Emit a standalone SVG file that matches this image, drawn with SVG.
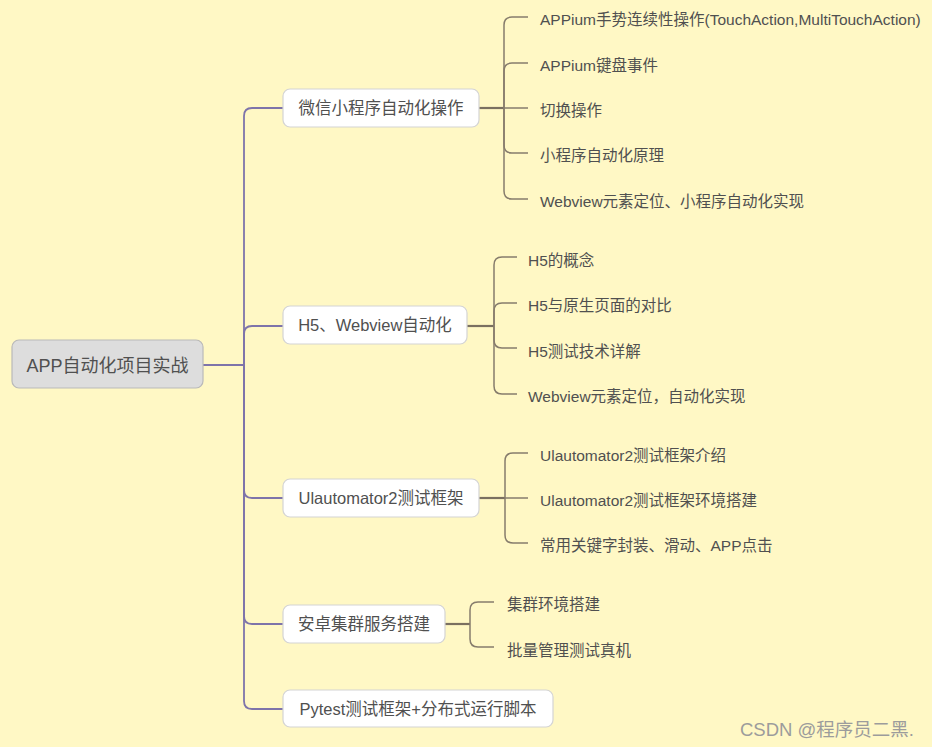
<svg xmlns="http://www.w3.org/2000/svg" width="932" height="747" viewBox="0 0 932 747">
<style>
  .bg{fill:#fff8c5}
  .root rect{fill:#dddddd;stroke:#b9b9b9;stroke-width:1.2}
  .node rect{fill:#ffffff;stroke:#d4d4d4;stroke-width:1.2}
  text{font-family:"Liberation Sans","Noto Sans CJK SC",sans-serif;fill:#505050}
  .rt{font-size:18px}
  .nt{font-size:16.5px}
  .ct{font-size:15.5px}
  .trunk{fill:none;stroke:#7e74aa;stroke-width:1.8}
  .sub{fill:none;stroke:#867c6c;stroke-width:1.5}
  .stub{fill:none;stroke:#7a7060;stroke-width:2.2}
  .wm{font-size:18.5px;fill:#9c9c9c}
</style>
<rect class="bg" x="0" y="0" width="932" height="747"/>
<g id="connectors">
  <path class="trunk" d="M203,365 H244" stroke-width="2.2"/>
  <path class="trunk" d="M244,365 V116 Q244,108 252,108 H283"/>
  <path class="trunk" d="M244,365 V334 Q244,326 252,326 H283"/>
  <path class="trunk" d="M244,365 V490 Q244,498 252,498 H283"/>
  <path class="trunk" d="M244,365 V616 Q244,624 252,624 H283"/>
  <path class="trunk" d="M244,365 V701 Q244,709 252,709 H283"/>
  <path class="stub" d="M479,108 H504"/>
  <path class="sub" d="M504,108 V25 Q504,17 512,17 H528"/>
  <path class="sub" d="M504,108 V71 Q504,63 512,63 H528"/>
  <path class="sub" d="M504,108 H528"/>
  <path class="sub" d="M504,108 V145 Q504,153 512,153 H528"/>
  <path class="sub" d="M504,108 V191 Q504,199 512,199 H528"/>
  <path class="stub" d="M467,326 H494"/>
  <path class="sub" d="M494,326 V265 Q494,257 502,257 H517"/>
  <path class="sub" d="M494,326 V311 Q494,303 502,303 H517"/>
  <path class="sub" d="M494,326 V340 Q494,348 502,348 H517"/>
  <path class="sub" d="M494,326 V386 Q494,394 502,394 H517"/>
  <path class="stub" d="M479,498 H505"/>
  <path class="sub" d="M505,498 V461 Q505,453 513,453 H528"/>
  <path class="sub" d="M505,498 H528"/>
  <path class="sub" d="M505,498 V535 Q505,543 513,543 H528"/>
  <path class="stub" d="M445,624 H470"/>
  <path class="sub" d="M470,624 V610 Q470,602 478,602 H494"/>
  <path class="sub" d="M470,624 V639 Q470,647 478,647 H494"/>
</g>
<g id="root" class="root">
  <rect x="12" y="340" width="191" height="48" rx="7"/>
  <text class="rt" x="107.5" y="372" text-anchor="middle">APP自动化项目实战</text>
</g>
<g id="n1" class="node">
  <rect x="283" y="89" width="196" height="38" rx="7"/>
  <text class="nt" x="381" y="114" text-anchor="middle">微信小程序自动化操作</text>
</g>
<g id="n1c">
  <text class="ct" x="540" y="25">APPium手势连续性操作(TouchAction,MultiTouchAction)</text>
  <text class="ct" x="540" y="71">APPium键盘事件</text>
  <text class="ct" x="540" y="116">切换操作</text>
  <text class="ct" x="540" y="161">小程序自动化原理</text>
  <text class="ct" x="540" y="207">Webview元素定位、小程序自动化实现</text>
</g>
<g id="n2" class="node">
  <rect x="283" y="306" width="184" height="38" rx="7"/>
  <text class="nt" x="375" y="331" text-anchor="middle">H5、Webview自动化</text>
</g>
<g id="n2c">
  <text class="ct" x="528" y="266">H5的概念</text>
  <text class="ct" x="528" y="311">H5与原生页面的对比</text>
  <text class="ct" x="528" y="357">H5测试技术详解</text>
  <text class="ct" x="528" y="402">Webview元素定位，自动化实现</text>
</g>
<g id="n3" class="node">
  <rect x="283" y="479" width="196" height="38" rx="7"/>
  <text class="nt" x="381" y="504" text-anchor="middle">Ulautomator2测试框架</text>
</g>
<g id="n3c">
  <text class="ct" x="540" y="461">Ulautomator2测试框架介绍</text>
  <text class="ct" x="540" y="506">Ulautomator2测试框架环境搭建</text>
  <text class="ct" x="540" y="551">常用关键字封装、滑动、APP点击</text>
</g>
<g id="n4" class="node">
  <rect x="283" y="605" width="162" height="38" rx="7"/>
  <text class="nt" x="364" y="630" text-anchor="middle">安卓集群服务搭建</text>
</g>
<g id="n4c">
  <text class="ct" x="507" y="610">集群环境搭建</text>
  <text class="ct" x="507" y="656">批量管理测试真机</text>
</g>
<g id="n5" class="node">
  <rect x="283" y="690" width="270" height="37" rx="7"/>
  <text class="nt" x="418" y="715" text-anchor="middle">Pytest测试框架+分布式运行脚本</text>
</g>
<text class="wm" x="740" y="736">CSDN @程序员二黑.</text>
</svg>
